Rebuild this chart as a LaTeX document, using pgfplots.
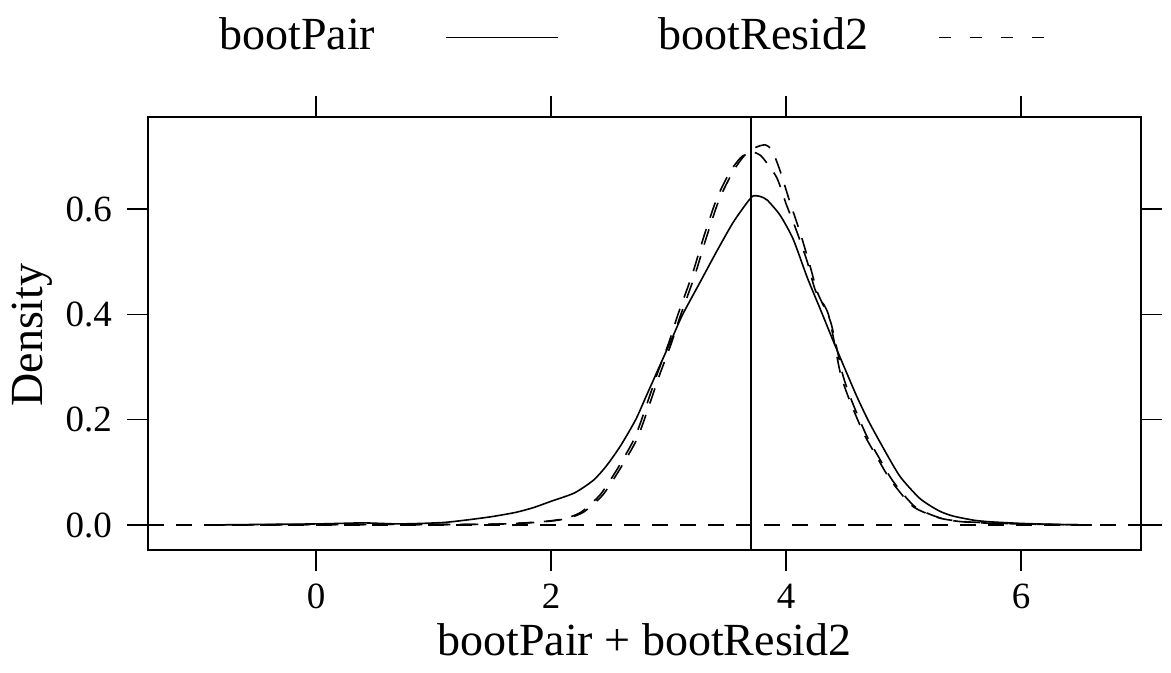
\documentclass[border=0pt]{standalone}
\usepackage{pgfplots}
\pgfplotsset{compat=1.18}
\usepackage{fontspec}
\setmainfont{Liberation Serif}

\begin{document}
\begin{tikzpicture}
\useasboundingbox (-74pt,-61.5pt) rectangle (511.5pt,275pt);
\begin{axis}[
  at={(0,0)}, anchor=south west,
  scale only axis,
  width=496.5pt, height=216.5pt,
  xmin=-1.43, xmax=7.02,
  ymin=-0.0475, ymax=0.775,
  xtick={0,2,4,6},
  ytick={0,0.2,0.4,0.6},
  tick align=outside,
  xtick pos=both, ytick pos=both,
  xticklabel pos=left, yticklabel pos=left,
  major tick length=10.5pt,
  every tick/.style={black, line width=0.8pt},
  axis line style={line width=0.8pt},
  /pgf/number format/assume math mode=true,
  yticklabel style={/pgf/number format/.cd, fixed, fixed zerofill, precision=1, /tikz/.cd, font=\fontsize{18.5}{22}\selectfont, xshift=-4pt},
  xticklabel style={font=\fontsize{18.5}{22}\selectfont, yshift=-3pt},
  xlabel={bootPair + bootResid2},
  ylabel={Density},
  xlabel style={at={(axis description cs:0.5,-0.2440)}, anchor=base, font=\fontsize{23}{27}\selectfont},
  ylabel style={at={(axis description cs:-0.1067,0.4965)}, anchor=base, rotate=0, font=\fontsize{23}{27}\selectfont},
  legend columns=2,
  legend plot pos=right,
  legend style={draw=none, fill=none, inner sep=0pt,
    at={(axis description cs:0.491,1.1547)}, anchor=south,
    font=\fontsize{23}{27}\selectfont,
    nodes={inner sep=0pt, text depth=0pt},
    /tikz/every odd column/.append style={column sep=35pt},
    /tikz/every even column/.append style={column sep=50pt}},
  legend cell align=left,
  legend image code/.code={\draw[#1] (0pt,-2pt) -- (56pt,-2pt);},
]
% reference lines
\addplot[black, line width=0.8pt, dash pattern=on 8pt off 6pt, forget plot] coordinates {(-1.43,0) (7.02,0)};
\addplot[black, line width=0.8pt, forget plot] coordinates {(3.7,-0.0475) (3.7,0.775)};

% bootPair (solid)
\addplot[black, line width=0.8pt, smooth, tension=0.4] coordinates {
(-0.92,0.000) (-0.5,0.001) (0.0,0.002) (0.2,0.003) (0.4,0.004) (0.55,0.003)
(0.7,0.002) (0.9,0.003) (1.1,0.005) (1.3,0.010) (1.5,0.016) (1.7,0.024)
(1.85,0.033) (2.0,0.045) (2.2,0.061) (2.36,0.085) (2.47,0.112) (2.59,0.150)
(2.72,0.200) (2.81,0.245) (2.93,0.305) (3.04,0.360) (3.12,0.400) (3.27,0.462)
(3.41,0.520) (3.55,0.575) (3.67,0.613) (3.72,0.625) (3.78,0.624) (3.84,0.617)
(3.95,0.588) (4.06,0.543) (4.18,0.470) (4.30,0.405) (4.40,0.350) (4.50,0.297)
(4.60,0.245) (4.70,0.198) (4.83,0.145) (4.97,0.092) (5.14,0.050) (5.30,0.027)
(5.42,0.017) (5.6,0.009) (5.74,0.006) (6.0,0.003) (6.3,0.001) (6.6,0.000)
};
\addlegendentry{bootPair}

% bootResid2 (dashed)
\addplot[black, line width=0.8pt, smooth, tension=0.4, dash pattern=on 8pt off 6pt, legend image post style={dash pattern=on 6pt off 9.5pt}] coordinates {
(-0.92,0.000) (0.5,0.001) (1.2,0.001) (1.6,0.002) (1.85,0.005) (2.0,0.008)
(2.13,0.013) (2.26,0.025) (2.42,0.058) (2.56,0.105) (2.70,0.160) (2.77,0.200)
(2.90,0.285) (3.00,0.345) (3.08,0.400) (3.20,0.475) (3.30,0.548) (3.41,0.620)
(3.52,0.670) (3.61,0.697) (3.69,0.709) (3.75,0.706) (3.80,0.698) (3.92,0.660)
(4.00,0.610) (4.09,0.558) (4.18,0.500) (4.25,0.445) (4.36,0.400) (4.46,0.290)
(4.54,0.237) (4.66,0.174) (4.77,0.130) (4.89,0.085) (5.08,0.035) (5.31,0.013)
(5.54,0.006) (6.0,0.002) (6.6,0.000)
};
\addlegendentry{bootResid2}

% second dashed curve
\addplot[black, line width=0.8pt, smooth, tension=0.4, dash pattern=on 8pt off 6pt, forget plot] coordinates {
(-0.9,0.000) (0.5,0.001) (1.2,0.001) (1.6,0.002) (1.87,0.005) (2.02,0.008)
(2.15,0.013) (2.28,0.025) (2.44,0.057) (2.58,0.104) (2.72,0.158) (2.79,0.198)
(2.92,0.283) (3.02,0.343) (3.10,0.397) (3.22,0.472) (3.32,0.545) (3.43,0.618)
(3.55,0.672) (3.65,0.703) (3.74,0.717) (3.82,0.722) (3.88,0.712) (3.95,0.672)
(4.03,0.615) (4.12,0.555) (4.20,0.495) (4.27,0.440) (4.38,0.385) (4.48,0.287)
(4.56,0.235) (4.68,0.172) (4.79,0.128) (4.91,0.083) (5.10,0.034) (5.33,0.012)
(5.56,0.005) (6.0,0.002) (6.6,0.000)
};
\end{axis}
\end{tikzpicture}
\end{document}
